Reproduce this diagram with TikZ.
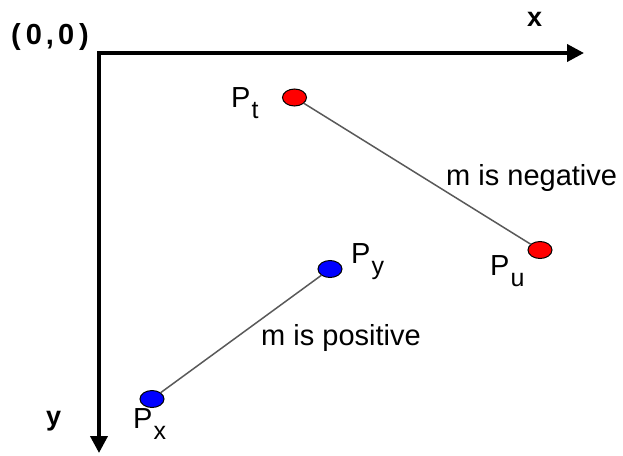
\documentclass[tikz,border=0pt]{standalone}
\usepackage{fontspec}
\setmainfont{Liberation Sans}
\usepackage{tikz}
\usetikzlibrary{arrows.meta,positioning,shapes.geometric}

\newcommand{\ptname}[1]{P\hspace{1pt}\raisebox{-11pt}{\fontsize{25}{25}\selectfont #1}}

\begin{document}
\begin{tikzpicture}[x=1pt,y=-1pt,>=Latex,
  axis/.style={line width=3.8pt,-{Triangle[length=17pt,width=17pt]}},
  pnt/.style={draw=black,ellipse,minimum width=24pt,minimum height=17pt,inner sep=0pt,line width=1pt},
  lbl/.style={font=\fontsize{29}{32}\selectfont,inner sep=0pt,anchor=base west},
  axlbl/.style={font=\bfseries\fontsize{27}{30}\selectfont,inner sep=0pt,anchor=base west},
  seg/.style={draw=black!65,line width=1.5pt}]
\useasboundingbox (0,0) rectangle (623,455);
\coordinate (origin) at (99,53);
\coordinate (xend) at (584,53);
\coordinate (yend) at (99,453);
\draw[axis] ([xshift=-1.9pt]origin) -- (xend);
\draw[axis] (origin) -- (yend);
\node[axlbl,font=\bfseries\fontsize{29}{32}\selectfont] (o_lbl) at (11,44) {(\hspace{5pt}0\hspace{4pt},\hspace{4pt}0\hspace{5pt})};
\node[axlbl] (x_lbl) at (527,27) {x};
\node[axlbl] (y_lbl) at (46,425) {y};
% negative slope
\node[pnt,fill=red] (pt) at (294.5,97.5) {};
\node[pnt,fill=red] (pu) at (540,250) {};
\draw[seg] (pt) -- (pu);
\node[lbl] (pt_lbl) at (231,107) {\ptname{t}};
\node[lbl] (pu_lbl) at (490,275) {\ptname{u}};
\node[lbl] (neg) at (446,185) {m is negative};
% positive slope
\node[pnt,fill=blue] (px) at (152,399) {};
\node[pnt,fill=blue] (py) at (330,269) {};
\draw[seg] (px) -- (py);
\node[lbl] (px_lbl) at (133,428) {\ptname{x}};
\node[lbl] (py_lbl) at (351,263) {\ptname{y}};
\node[lbl] (pos) at (261,345) {m is positive};
\end{tikzpicture}
\end{document}
